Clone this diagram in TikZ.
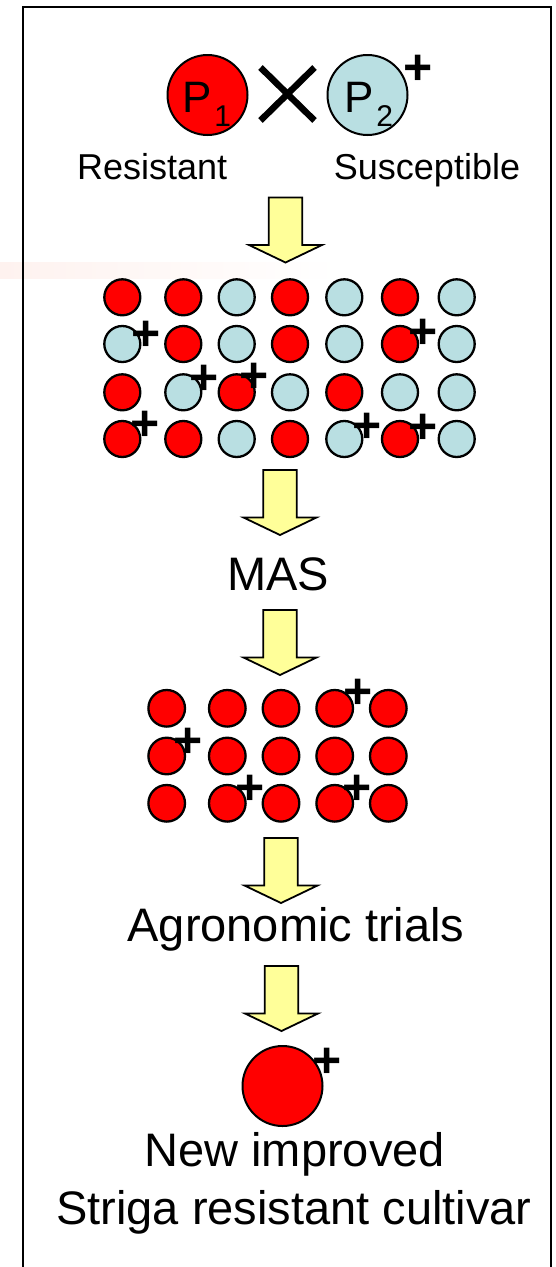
\documentclass[tikz,border=0pt]{standalone}
\usepackage{fontspec}
\setmainfont{Liberation Sans}
\definecolor{sred}{RGB}{255,0,0}
\definecolor{sblue}{RGB}{185,223,226}
\definecolor{arrowyellow}{RGB}{255,255,153}
\definecolor{bandpink}{RGB}{254,242,239}
\tikzset{
  res/.style={circle,draw=black,line width=2.3pt,fill=sred,minimum size=36pt,inner sep=0pt},
  sus/.style={res,fill=sblue},
  bigres/.style={circle,draw=black,line width=2pt,fill=sred,minimum size=80pt,inner sep=0pt},
  plusmark/.style={font=\fontsize{50}{50}\selectfont\bfseries,inner sep=0pt,anchor=base},
  midtext/.style={font=\fontsize{36}{40}\selectfont,inner sep=0pt,anchor=base},
  bigtext/.style={font=\fontsize{47}{56}\selectfont,inner sep=0pt,anchor=base},
  blockarrow/.pic={\draw[line width=1.8pt,fill=arrowyellow,line join=miter]
     (-16.7,0) -- (16.7,0) -- (16.7,47.5) -- (36.5,47.5) -- (0,65) -- (-36.5,47.5) -- (-16.7,47.5) -- cycle;}
}
\newcommand{\plusat}[3]{\node[plusmark] (#1) at (#2,#3+17.8) {+};}
\begin{document}
\begin{tikzpicture}[x=1pt,y=-1pt]
\useasboundingbox (0,0) rectangle (555,1267);
% faint band
\shade[left color=bandpink,right color=white] (0,262.7) rectangle (340,278.3);
% frame
\draw[line width=2pt] (23,1275) -- (23,6.5) -- (551,6.5) -- (551,1275);

% parents
\node[bigres] (p1) at (207.5,95) {};
\node[bigres,fill=sblue] (p2) at (367.5,95) {};
\node[inner sep=0pt,anchor=base,font=\fontsize{44}{44}\selectfont] (p1lab) at (207,112)
  {P\kern2pt\raisebox{-14pt}{\fontsize{30}{30}\selectfont 1}};
\node[inner sep=0pt,anchor=base,font=\fontsize{44}{44}\selectfont] (p2lab) at (369,112)
  {P\kern2pt\raisebox{-14pt}{\fontsize{30}{30}\selectfont 2}};
\coordinate (xc) at (287.5,94);
\draw[line width=6.5pt] ([shift={(-27,-26.5)}]xc) -- ([shift={(27,26.5)}]xc);
\draw[line width=6.5pt] ([shift={(-27,26.5)}]xc) -- ([shift={(27,-26.5)}]xc);
\plusat{p2plus}{417.7}{66.7}
\node[midtext] (resist) at (152.2,179) {Resistant};
\node[midtext] (suscept) at (427,179) {Susceptible};

\pic at (285.5,197.5) {blockarrow};

% F2 grid
\foreach \r/\y/\pat in {1/297.3/{1,1,0,1,0,1,0},2/344/{0,1,0,1,0,1,0},3/392.3/{1,0,1,0,1,0,0},4/439/{1,1,0,1,0,1,0}}{
  \foreach \c/\x [count=\i] in {1/122.3,2/183.3,3/236.7,4/290,5/344.3,6/400,7/456.7}{
    \pgfmathparse{{\pat}[\i-1]}
    \ifnum\pgfmathresult=1
      \node[res] (g\r\c) at (\x,\y) {};
    \else
      \node[sus] (g\r\c) at (\x,\y) {};
    \fi
  }
}
\plusat{ga}{146}{332.3}
\plusat{gb}{204.3}{376.7}
\plusat{gc}{254}{374.3}
\plusat{gd}{145}{422.3}
\plusat{ge}{422.7}{331}
\plusat{gf}{366.7}{424.3}
\plusat{gg}{422.7}{425.7}

\pic at (280,470) {blockarrow};
\node[bigtext] (mas) at (278,590) {MAS};
\pic at (280,610) {blockarrow};

% selected grid
\foreach \r/\y in {1/708.3,2/756,3/803.3}{
  \foreach \c/\x in {1/166.7,2/227.3,3/281,4/334.7,5/388.3}{
    \node[res,minimum size=36.6pt] (s\r\c) at (\x,\y) {};
  }
}
\plusat{sa}{357.7}{691}
\plusat{sb}{187.7}{740}
\plusat{sc}{250}{786.7}
\plusat{sd}{356.7}{786.7}

\pic at (281,838) {blockarrow};
\node[bigtext] (agro) at (296,941.7) {Agronomic trials};
\pic at (281.5,966) {blockarrow};

\node[bigres] (final) at (282.5,1086) {};
\plusat{fplus}{326.7}{1060}
\node[bigtext] (new1) at (294.7,1166.7) {New improved};
\node[bigtext] (new2) at (294,1224) {Striga resistant cultivar};
\end{tikzpicture}
\end{document}
